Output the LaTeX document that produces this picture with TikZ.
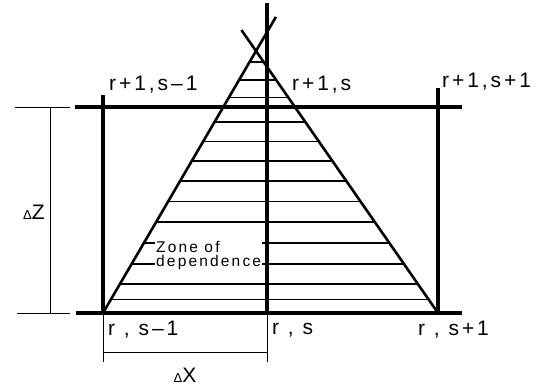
\documentclass[tikz,border=0pt]{standalone}
\usepackage{fontspec}
\setmainfont{Liberation Sans}
\newfontfamily\gridfont[LetterSpace=14]{Liberation Sans}
\usetikzlibrary{calc, positioning}

\begin{document}
\begin{tikzpicture}[
    x=1pt, y=-1pt,
    grid/.style={line width=3.2pt},
    side/.style={line width=2.6pt},
    hatch/.style={line width=1.2pt},
    dim/.style={line width=0.8pt},
    lbl/.style={font=\gridfont\fontsize{21}{24}\selectfont, inner sep=0pt, anchor=west},
    zone/.style={font=\gridfont\fontsize{15.5}{17}\selectfont, fill=white, inner sep=1pt, align=left, anchor=north west},
    delta/.style={font=\gridfont\fontsize{21}{24}\selectfont, inner sep=0pt}
]
\useasboundingbox (0,0) rectangle (538,387);

\coordinate (ul) at (103,107);
\coordinate (uc) at (267,107);
\coordinate (ur) at (438,107);
\coordinate (bl) at (103,313);
\coordinate (bc) at (267,313);
\coordinate (br) at (438,313);
\coordinate (apex) at (256,51);

\foreach \t in {0.053,0.111,0.187,0.267,0.347,0.427,0.504,0.580,0.656,0.729,0.824,0.889,0.958}
    \draw [hatch] ($(bl)!\t!(apex)$) -- ($(br)!\t!(apex)$);

\node [zone] (zonetxt) at (155,240) {Zone of\\[-3pt]dependence};

\draw [side] (bl) -- ($(bl)!1.13!(apex)$);
\draw [side] (br) -- ($(br)!1.08!(apex)$);

\draw [grid] ($(ul)+(-28,0)$) -- ($(ur)+(24,0)$);
\draw [grid] ($(bl)+(-27,0)$) -- ($(br)+(24,0)$);
\draw [grid] ($(ul)+(0,-12)$) -- (bl);
\draw [grid] ($(uc)+(0,-104)$) -- (bc);
\draw [grid] ($(ur)+(0,-19)$) -- (br);

\coordinate (zt) at (50,107);
\coordinate (zb) at (50,313);
\draw [dim] (15,107) -- (70,107);
\draw [dim] (17,313) -- (70,313);
\draw [dim] (zt) -- (zb);
\node [delta] (dz) at (34,212) {{\fontsize{13}{14}\selectfont Δ}Z};

\coordinate (xl) at (103,352);
\coordinate (xr) at (267,352);
\draw [dim] (bl) -- ($(bl)+(0,49)$);
\draw [dim] (bc) -- ($(bc)+(0,49)$);
\draw [dim] (xl) -- (xr);
\node [delta] (dx) at (185,375) {{\fontsize{13}{14}\selectfont Δ}X};

\node [lbl] (n1) at (109,85) {r+1,s–1};
\node [lbl] (n2) at (292,85) {r+1,s};
\node [lbl] (n3) at (442,82) {r+1,s+1};
\node [lbl] (n4) at (108,330) {r , s–1};
\node [lbl] (n5) at (272,330) {r , s};
\node [lbl] (n6) at (418,330) {r , s+1};
\end{tikzpicture}
\end{document}
